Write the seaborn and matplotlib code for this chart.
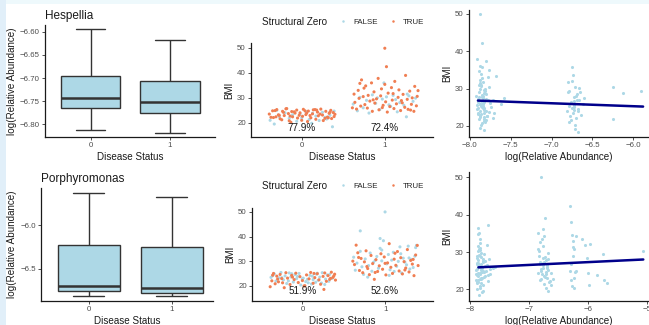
import numpy as np
import pandas as pd
import matplotlib
matplotlib.use("Agg")
import matplotlib.pyplot as plt
import seaborn as sns
from matplotlib.patches import Rectangle

# ---------------- data ----------------
status_levels = ["0", "1"]
zero_levels = ["FALSE", "TRUE"]
titles = ["Hespellia", "Porphyromonas"]

# five-number summaries: min, q1, median, q3, max
hes_box0 = [-6.813, -6.764, -6.744, -6.696, -6.594]
hes_box1 = [-6.819, -6.775, -6.753, -6.706, -6.617]
por_box0 = [-6.815, -6.750, -6.700, -6.229, -5.637]
por_box1 = [-6.810, -6.777, -6.716, -6.248, -5.683]
hes_box_ticks = [-6.60, -6.65, -6.70, -6.75, -6.80]
hes_box_labels = ["−6.60", "−6.65", "−6.70", "−6.75", "−6.80"]
por_box_ticks = [-6.0, -6.5]
por_box_labels = ["−6.0", "−6.5"]

hes_pct = ["77.9%", "72.4%"]
por_pct = ["51.9%", "52.6%"]

# Hespellia: BMI by disease status (jittered status), structural zero TRUE / FALSE
hes0T_x = [-0.39,-0.35,-0.34,-0.30,-0.27,-0.26,-0.22,-0.21,-0.19,-0.16,-0.15,-0.12,-0.11,-0.08,-0.06,-0.05,-0.02,0.01,0.02,0.05,
           0.07,0.08,0.11,0.13,0.14,0.17,0.19,0.20,0.23,0.25,0.26,0.29,0.31,0.33,0.35,0.36,0.38,0.39,0.40,-0.37,
           -0.32,-0.28,-0.24,-0.18,-0.14,-0.09,-0.03,0.00,0.04,0.10,0.16,0.22,0.28,0.34,-0.31,-0.13,0.06,0.18,0.32,-0.23]
hes0T_y = [23.5,24.8,22.1,25.3,23.0,21.6,24.2,22.9,25.6,23.7,20.8,24.5,22.4,23.9,25.1,21.9,24.0,22.6,25.4,23.3,
           20.5,24.7,22.0,23.6,25.2,21.4,24.3,22.8,25.5,23.1,20.9,24.6,22.3,23.8,25.0,21.7,24.1,22.5,23.4,22.2,
           24.9,23.2,21.2,25.7,22.7,24.4,23.0,21.0,24.8,22.9,25.3,23.5,21.8,24.2,22.4,20.2,23.9,25.1,22.0,24.6]
hes0F_x = [-0.38,-0.33,-0.27,-0.20,-0.15,-0.11,-0.06,0.00,0.05,0.09,0.13,0.17,0.21,0.25,0.30,0.34,0.37,-0.30,-0.02,0.12,0.28,0.39]
hes0F_y = [21.0,19.5,22.5,24.0,21.8,23.2,20.6,22.0,24.5,21.3,23.8,22.7,20.9,24.2,21.5,23.0,18.4,25.0,23.5,19.8,22.2,24.7]
hes1T_x = [0.61,0.63,0.64,0.66,0.68,0.69,0.71,0.72,0.74,0.76,0.77,0.79,0.80,0.82,0.84,0.85,0.87,0.88,0.90,0.92,
           0.93,0.95,0.96,0.98,1.00,1.01,1.03,1.04,1.06,1.08,1.09,1.11,1.12,1.14,1.16,1.17,1.19,1.20,1.22,1.24,
           1.25,1.27,1.28,1.30,1.32,1.33,1.35,1.36,1.38,1.40,0.70,0.86,0.97,1.02,1.10,1.21,1.31,1.39,0.75,1.00]
hes1T_y = [26.0,31.5,28.2,25.5,33.0,29.8,26.7,37.2,30.5,27.3,34.8,25.9,31.0,28.7,36.0,24.6,32.4,27.9,29.6,37.8,
           25.2,30.8,33.6,27.0,35.4,28.4,24.3,31.9,26.5,34.1,29.1,25.7,36.6,27.6,30.2,33.2,24.9,28.9,31.4,26.2,
           39.0,29.4,25.4,32.7,27.4,30.0,24.6,34.6,26.8,32.9,35.8,29.2,26.1,42.5,31.7,28.0,25.1,30.6,33.9,49.9]
hes1F_x = [0.62,0.67,0.70,0.74,0.78,0.81,0.85,0.89,0.91,0.94,0.97,0.99,1.02,1.05,1.07,1.10,1.13,1.15,1.18,1.23,
           1.26,1.29,1.34,1.37,1.27]
hes1F_y = [27.5,24.8,30.2,26.0,29.0,23.9,31.2,27.8,30.0,25.3,29.5,36.0,30.4,27.2,26.6,31.0,29.3,24.4,28.1,27.0,
           22.4,30.8,28.6,29.9,31.5]

# Hespellia: BMI vs log(Relative Abundance)
hesR_x = [-7.91,-7.89,-7.87,-7.86,-7.84,-7.82,-7.80,-7.78,-7.76,-7.90,-7.88,-7.85,-7.83,-7.81,-7.79,-7.77,-7.75,-7.92,-7.90,-7.87,
          -7.86,-7.84,-7.83,-7.81,-7.80,-7.78,-7.89,-7.88,-7.85,-7.82,-7.91,-7.89,-7.87,-7.86,-7.84,-7.82,-7.80,-7.79,-7.77,-7.90,
          -7.88,-7.85,-7.83,-7.81,-7.86,-7.84,-7.87,-7.89,-7.83,-7.85,-7.91,-7.88,-7.86,-7.84,-7.82,-7.90,-7.87,-7.85,-7.83,-7.80,
          -7.89,-7.86,-7.84,-7.88,-7.85,-7.87,-7.82,-7.90,-7.86,-7.84,-7.72,-7.70,-7.68,-7.74,-7.62,-7.58,-7.71,-7.88,-7.85,-7.80,
          -6.81,-6.79,-6.78,-6.76,-6.75,-6.74,-6.73,-6.72,-6.71,-6.70,-6.69,-6.68,-6.66,-6.80,-6.77,-6.75,-6.73,-6.71,-6.69,-6.67,
          -6.65,-6.62,-6.78,-6.74,-6.72,-6.70,-6.76,-6.73,-6.68,-6.64,-6.80,-6.75,-6.71,-6.60,-6.66,
          -6.25,-6.25,-6.13,-5.91]
hesR_y = [24.5,27.8,22.3,30.6,25.9,21.4,28.7,33.2,23.8,26.4,31.5,20.7,24.9,29.3,22.8,35.1,26.2,28.1,23.1,32.4,
          25.3,27.4,21.9,30.0,24.1,26.9,34.6,19.5,28.4,23.4,25.6,22.0,29.8,26.7,31.9,24.3,27.1,22.6,30.4,23.6,
          36.2,25.0,28.9,21.1,33.8,24.7,26.0,29.1,22.4,27.7,38.0,23.0,31.0,25.4,19.0,27.2,24.0,32.9,26.5,21.6,
          30.9,23.3,28.0,25.8,35.8,22.7,29.6,24.8,20.2,26.1,27.0,23.5,33.5,25.1,25.8,27.4,22.2,49.9,42.3,37.3,
          24.0,29.5,21.0,26.3,32.0,23.5,27.8,25.0,30.5,22.2,28.6,24.6,26.9,31.8,22.8,35.9,25.7,20.3,27.0,23.9,
          29.0,26.0,25.3,33.6,24.2,28.0,21.6,26.6,18.5,22.9,29.2,24.9,19.3,27.6,30.2,
          30.4,21.8,28.8,29.4]
hes_fit_x = [-7.90, -5.88]
hes_fit_y = [26.8, 25.2]
hes_reg_ticks = [-8.0, -7.5, -7.0, -6.5, -6.0]
hes_reg_labels = ["−8.0", "−7.5", "−7.0", "−6.5", "−6.0"]

# Porphyromonas: BMI by disease status
por0T_x = [-0.39,-0.37,-0.35,-0.33,-0.31,-0.29,-0.27,-0.25,-0.22,-0.20,-0.18,-0.15,-0.13,-0.10,-0.08,-0.05,-0.03,0.00,0.03,0.05,
           0.08,0.10,0.13,0.15,0.18,0.20,0.22,0.25,0.27,0.29,0.31,0.33,0.35,0.37,0.39,0.40,-0.36,-0.24,-0.12,0.02,
           0.14,0.26,0.34,-0.30,0.38]
por0T_y = [19.6,22.0,25.0,20.8,23.9,21.6,24.6,22.9,19.2,25.3,23.1,20.5,24.2,22.5,25.1,21.3,23.7,22.1,20.0,24.4,
           22.8,25.4,21.0,23.3,24.9,22.4,20.6,23.8,25.2,21.8,24.1,22.6,25.5,23.4,24.7,22.3,24.3,21.2,23.5,19.9,
           25.0,18.5,23.0,22.7,24.0]
por0F_x = [-0.38,-0.34,-0.32,-0.28,-0.26,-0.23,-0.21,-0.19,-0.16,-0.14,-0.11,-0.09,-0.07,-0.04,-0.02,0.01,0.04,0.06,0.09,0.11,
           0.12,0.16,0.17,0.19,0.21,0.23,0.24,0.28,0.30,0.32,0.36,-0.36,-0.17,-0.06,0.07,0.18,0.33,-0.25,0.00,0.27,
           -0.13,0.13]
por0F_y = [23.4,24.8,21.9,23.2,25.4,22.4,24.0,20.9,25.2,23.6,21.5,24.5,22.9,25.0,20.3,23.1,21.7,22.6,24.2,20.7,
           23.9,21.4,24.7,22.2,23.5,21.1,25.3,22.7,24.4,21.8,23.0,24.1,22.0,23.8,21.2,25.1,24.6,23.3,22.8,20.5,
           24.9,22.5]
por1T_x = [0.61,0.63,0.65,0.67,0.69,0.71,0.73,0.75,0.77,0.79,0.81,0.83,0.85,0.87,0.89,0.91,0.93,0.95,0.97,0.99,
           1.01,1.03,1.05,1.07,1.09,1.11,1.13,1.15,1.17,1.19,1.21,1.23,1.25,1.27,1.29,1.31,1.33,1.35,1.37,1.39,
           0.68,0.78,0.88,1.00,1.12,1.24,1.34,1.40]
por1T_y = [30.0,28.6,36.5,33.4,26.2,31.1,25.3,29.7,34.2,27.0,24.5,32.3,29.0,22.6,30.6,25.8,28.1,33.0,26.7,31.7,
           24.4,29.3,37.1,27.5,25.0,30.8,28.3,33.9,26.0,31.4,24.8,29.8,27.2,34.7,25.6,30.3,28.8,24.1,32.5,36.4,
           31.5,27.8,25.4,29.1,33.2,26.4,30.7,28.2]
por1F_x = [0.62,0.64,0.66,0.70,0.72,0.74,0.76,0.80,0.82,0.84,0.86,0.90,0.92,0.94,0.96,0.98,1.00,1.02,1.04,1.06,
           1.08,1.10,1.14,1.16,1.18,1.20,1.22,1.26,1.28,1.30,1.32,1.36,1.38,0.94,0.70,0.96,1.05,1.24,0.79,1.34,
           1.19,0.88,1.11,1.29,1.37]
por1F_y = [31.6,26.3,29.2,34.0,27.7,24.6,30.9,28.2,33.3,25.9,29.5,31.9,27.1,35.2,30.1,38.3,50.0,28.9,32.7,26.5,
           30.4,33.6,27.9,29.9,35.8,25.2,31.2,28.5,36.1,26.8,30.7,32.0,36.4,39.2,42.3,34.5,24.2,29.6,23.5,27.4,
           33.0,30.3,25.8,31.3,35.5]

# Porphyromonas: BMI vs log(Relative Abundance)
porR_x = [-7.90,-7.88,-7.86,-7.85,-7.83,-7.81,-7.79,-7.77,-7.75,-7.89,-7.87,-7.84,-7.82,-7.80,-7.78,-7.76,-7.74,-7.90,-7.88,-7.86,
          -7.85,-7.83,-7.81,-7.79,-7.77,-7.89,-7.87,-7.84,-7.82,-7.80,-7.78,-7.86,-7.88,-7.85,-7.83,-7.81,-7.90,-7.87,-7.84,-7.82,
          -7.79,-7.86,-7.88,-7.85,-7.83,-7.80,-7.89,-7.87,-7.84,-7.81,-7.86,-7.83,-7.88,-7.85,-7.82,-7.80,-7.87,-7.84,-7.86,-7.89,
          -7.72,-7.70,-7.68,-7.66,-7.71,-7.69,-7.74,-7.67,-7.62,-7.58,-7.83,-7.69,-7.85,-7.78,-7.73,
          -6.85,-6.83,-6.81,-6.79,-6.78,-6.76,-6.75,-6.73,-6.72,-6.70,-6.69,-6.67,-6.65,-6.84,-6.82,-6.80,-6.77,-6.74,-6.71,-6.68,
          -6.66,-6.63,-6.60,-6.83,-6.79,-6.76,-6.73,-6.70,-6.67,-6.81,-6.78,-6.75,-6.72,-6.69,-6.84,-6.80,-6.77,-6.74,-6.71,-6.62,
          -6.80,-6.73,-6.76,-6.82,-6.68,
          -6.31,-6.29,-6.27,-6.25,-6.23,-6.21,-6.30,-6.26,-6.24,-6.22,-6.28,-6.20,-6.27,-6.25,-6.29,-6.23,
          -6.10,-6.05,-5.97,-6.02,-6.00,-5.98,-5.85,-5.75,-5.72,-5.68,-5.06]
porR_y = [25.2,28.4,22.1,30.8,24.0,26.7,21.3,29.5,23.6,27.1,31.6,20.4,25.8,23.0,28.0,24.7,26.3,22.6,29.0,24.4,
          26.0,32.4,21.8,27.5,23.3,25.5,30.2,22.9,28.7,19.3,24.9,27.8,23.8,26.4,21.0,29.8,24.2,22.4,31.0,25.1,
          27.3,23.5,26.8,18.5,28.9,24.6,21.6,25.9,30.5,22.7,34.7,26.2,20.0,29.3,23.1,25.6,27.0,24.3,36.5,22.0,
          26.5,23.9,28.2,25.4,31.8,22.3,27.6,24.1,25.8,26.0,33.5,37.2,35.0,19.5,24.8,
          24.5,30.3,22.6,27.1,33.4,25.8,21.5,28.6,24.0,26.4,23.1,29.7,22.2,35.0,26.9,24.8,31.6,23.6,27.9,25.1,
          21.9,24.3,22.8,29.0,25.5,36.2,23.3,26.0,28.2,32.8,24.1,27.4,20.4,25.7,30.9,22.9,26.6,34.2,24.7,21.2,
          50.0,39.2,28.4,27.3,19.6,
          42.3,37.9,34.6,31.4,30.8,25.0,24.8,29.0,23.1,24.6,22.5,34.4,21.0,32.9,26.8,20.5,
          33.4,32.0,32.1,28.3,24.3,21.2,23.8,29.4,22.5,21.6,30.3]
por_fit_x = [-7.86, -5.06]
por_fit_y = [25.9, 28.0]
por_reg_ticks = [-8, -7, -6, -5]
por_reg_labels = ["−8", "−7", "−6", "−5"]

# ---------------- style ----------------
BOX_FILL = "#ADD8E6"
BLUE = "#ADD8E6"
ORANGE = "#F07E52"
LINE = "#00008B"
BASE = 7.1
TICK = 5.7

sns.set_theme(style="ticks")
plt.rcParams['font.family'] = ['Liberation Sans', 'DejaVu Sans']

W, H = 649, 325
fig = plt.figure(figsize=(W / 100, H / 100), dpi=100, facecolor="white")
fig.patches.append(Rectangle((0, 1 - 4 / H), 1, 4 / H, transform=fig.transFigure,
                             facecolor="#EEF9FC", edgecolor="none", zorder=-10))
fig.patches.append(Rectangle((0, 0), 6 / W, 1, transform=fig.transFigure,
                             facecolor="#E1EFF9", edgecolor="none", zorder=-10))


def add_ax(x0, y0, x1, y1):
    return fig.add_axes([x0 / W, 1 - y1 / H, (x1 - x0) / W, (y1 - y0) / H])


def style(ax):
    sns.despine(ax=ax)
    for s in ("left", "bottom"):
        ax.spines[s].set_linewidth(0.9)
        ax.spines[s].set_color("#1A1A1A")
    ax.tick_params(labelsize=TICK, colors="#333333", labelcolor="#4D4D4D",
                   length=2.2, width=0.6, pad=1.5)
    ax.set_facecolor("none")


def box_panel(ax, b0, b1, title, ylim, xlim, yticks, ylabels):
    df = pd.DataFrame({"status": [status_levels[0]] * len(b0) + [status_levels[1]] * len(b1),
                       "value": b0 + b1})
    sns.boxplot(data=df, x="status", y="value", order=status_levels, ax=ax,
                whis=(0, 100), width=0.75, color=BOX_FILL, saturation=1,
                linecolor="#333333", linewidth=1.0,
                medianprops=dict(linewidth=1.8, color="#333333"))
    ax.set_xlim(*xlim)
    ax.set_ylim(*ylim)
    ax.set_yticks(yticks)
    ax.set_yticklabels(ylabels)
    style(ax)
    ax.set_xlabel("Disease Status", fontsize=BASE, color="#1A1A1A", labelpad=2)
    ax.set_ylabel("log(Relative Abundance)", fontsize=BASE, color="#1A1A1A", labelpad=2)
    ax.set_title(title, loc="left", fontsize=8.5, color="#1A1A1A", pad=4, x=0.0)


def jitter_panel(ax, parts, pcts, ylim, legend_y):
    xs, ys, zs = [], [], []
    for x, y, z in parts:
        xs += x
        ys += y
        zs += [z] * len(x)
    df = pd.DataFrame({"status": xs, "BMI": ys, "zero": zs})
    sns.scatterplot(data=df, x="status", y="BMI", hue="zero", hue_order=zero_levels,
                    palette={"FALSE": BLUE, "TRUE": ORANGE}, s=5, linewidth=0,
                    ax=ax, legend=True)
    for i, p in enumerate(pcts):
        ax.text(i, 18.0, p, ha="center", va="center", fontsize=BASE, color="#1A1A1A")
    ax.set_xlim(-0.61, 1.58)
    ax.set_ylim(*ylim)
    ax.set_xticks([0, 1])
    ax.set_xticklabels(status_levels)
    ax.set_yticks([20, 30, 40, 50])
    style(ax)
    ax.set_xlabel("Disease Status", fontsize=BASE, color="#1A1A1A", labelpad=2)
    ax.set_ylabel("BMI", fontsize=BASE, color="#1A1A1A", labelpad=2)
    sns.move_legend(ax, "center left", bbox_to_anchor=(330 / W, 1 - legend_y / H),
                    bbox_transform=fig.transFigure, ncol=2, title=None, frameon=False,
                    fontsize=TICK, handletextpad=0.25, columnspacing=0.9,
                    borderpad=0.2, markerscale=0.8)
    fig.text(262 / W, 1 - legend_y / H, "Structural Zero", fontsize=BASE,
             color="#1A1A1A", va="center", ha="left")


def reg_panel(ax, x, y, fx, fy, xlim, ylim, xticks, xticklabels):
    sns.scatterplot(x=x, y=y, color=BLUE, s=5, linewidth=0, ax=ax)
    sns.lineplot(x=fx, y=fy, color=LINE, linewidth=1.8, ax=ax)
    ax.set_xlim(*xlim)
    ax.set_ylim(*ylim)
    ax.set_xticks(xticks)
    ax.set_xticklabels(xticklabels)
    ax.set_yticks([20, 30, 40, 50])
    style(ax)
    ax.set_xlabel("log(Relative Abundance)", fontsize=BASE, color="#1A1A1A", labelpad=2)
    ax.set_ylabel("BMI", fontsize=BASE, color="#1A1A1A", labelpad=2)


# ---------------- top row: Hespellia ----------------
ax1 = add_ax(45, 25, 215, 137)
box_panel(ax1, hes_box0, hes_box1, titles[0], (-6.828, -6.585), (-0.576, 1.57),
          hes_box_ticks, hes_box_labels)

ax2 = add_ax(251, 43, 433, 137)
jitter_panel(ax2, [(hes0F_x, hes0F_y, "FALSE"), (hes0T_x, hes0T_y, "TRUE"),
                   (hes1F_x, hes1F_y, "FALSE"), (hes1T_x, hes1T_y, "TRUE")],
             hes_pct, (14.3, 52.0), 22)

ax3 = add_ax(469, 10, 648, 137)
reg_panel(ax3, hesR_x, hesR_y, hes_fit_x, hes_fit_y, (-8.009, -5.82), (17.05, 51.07),
          hes_reg_ticks, hes_reg_labels)

# ---------------- bottom row: Porphyromonas ----------------
ax4 = add_ax(41, 188, 213, 301)
box_panel(ax4, por_box0, por_box1, titles[1], (-6.87, -5.576), (-0.58, 1.5),
          por_box_ticks, por_box_labels)

ax5 = add_ax(252, 208, 433, 301)
jitter_panel(ax5, [(por0F_x, por0F_y, "FALSE"), (por0T_x, por0T_y, "TRUE"),
                   (por1F_x, por1F_y, "FALSE"), (por1T_x, por1T_y, "TRUE")],
             por_pct, (13.8, 51.6), 186)

ax6 = add_ax(469, 172, 648, 301)
reg_panel(ax6, porR_x, porR_y, por_fit_x, por_fit_y, (-8.02, -4.98), (16.9, 51.4),
          por_reg_ticks, por_reg_labels)

fig.savefig("out.png", dpi=100, facecolor=fig.get_facecolor())
